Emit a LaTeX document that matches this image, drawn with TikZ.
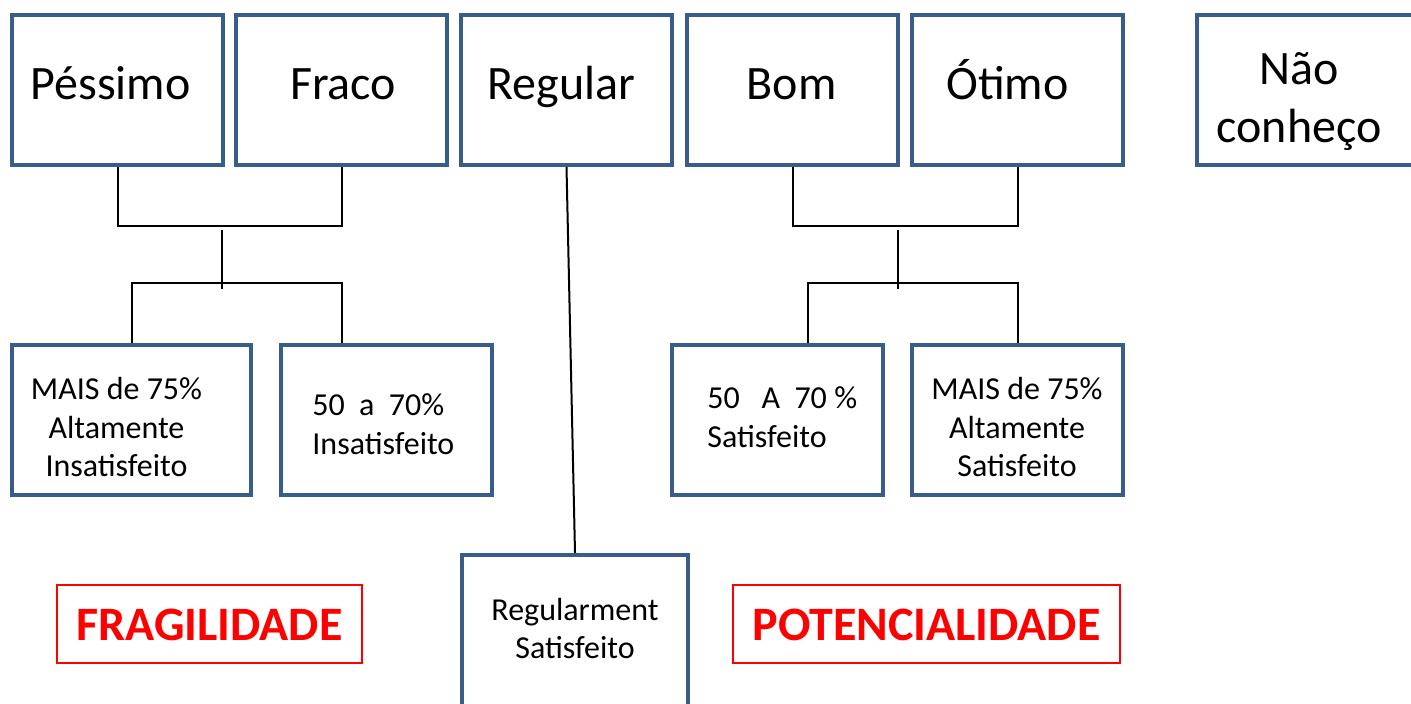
\documentclass[tikz,border=0pt]{standalone}
\usepackage{fontspec}
\setmainfont{Carlito}
\definecolor{bxblue}{RGB}{56,93,138}
\definecolor{tred}{RGB}{255,0,0}
\begin{document}
\begin{tikzpicture}[x=0.5pt,y=-0.5pt,
  bx/.style 2 args={draw=bxblue, line width=2pt, rectangle, inner sep=0pt,
    minimum width=#1*0.5pt, minimum height=#2*0.5pt},
  redbx/.style 2 args={draw=tred, line width=1pt, rectangle, inner sep=0pt,
    minimum width=#1*0.5pt, minimum height=#2*0.5pt},
  big/.style={font=\fontsize{24}{29}\selectfont, inner sep=0pt, anchor=base, align=center},
  small/.style={font=\fontsize{16}{19.5}\selectfont, inner sep=0pt, anchor=base},
  redtxt/.style={font=\fontsize{24}{29}\selectfont\bfseries, text=tred, inner sep=0pt, anchor=base},
  conn/.style={draw=black, line width=1pt}
]
\useasboundingbox (0,0) rectangle (1411,704);
\clip (0,0) rectangle (1411,704);
\fill[white] (0,0) rectangle (1411,704);

% top row boxes
\node[bx={211}{150}] (pess) at (117.5,90) {};
\node[bx={211}{150}] (fraco) at (341.5,90) {};
\node[bx={211}{150}] (regular) at (566.5,90) {};
\node[bx={211}{150}] (bom) at (792.5,90) {};
\node[bx={211}{150}] (otimo) at (1017.5,90) {};
\node[bx={230}{150}] (naoc) at (1312,90) {};

% second row boxes
\node[bx={239}{150}] (mi) at (131.5,420) {};
\node[bx={211}{150}] (ins) at (386.5,420) {};
\node[bx={211}{150}] (sat) at (777.5,420) {};
\node[bx={211}{150}] (as) at (1017.5,420) {};

% bottom boxes
\node[bx={226}{170}] (regs) at (575,640) {};
\node[redbx={305}{78}] (frag) at (209.5,624) {};
\node[redbx={387}{78}] (pot) at (926.5,624) {};

% texts
\node[big] (tpess) at (110.5,100) {Péssimo};
\node[big] (tfraco) at (343,100) {Fraco};
\node[big] (treg) at (561.5,100) {Regular};
\node[big] (tbom) at (791.5,100) {Bom};
\node[big] (totimo) at (1007.5,100) {Ótimo};
\node[big] (tnao) at (1299,85) {Não};
\node[big] (tconh) at (1299,143) {conheço};

\node[small] (tmi1) at (116.5,400) {MAIS de 75\%};
\node[small] (tmi2) at (116.5,439) {Altamente};
\node[small] (tmi3) at (116.5,477) {Insatisfeito};

\node[small, anchor=base west] (tins1) at (312,416) {50\hspace{0.45em}a\hspace{0.45em}70\%};
\node[small, anchor=base west] (tins2) at (312,455) {Insatisfeito};

\node[small, anchor=base west] (tsat1) at (707,409) {50\hspace{0.68em}A\hspace{0.45em}70\hspace{0.23em}\%};
\node[small, anchor=base west] (tsat2) at (707,448) {Satisfeito};

\node[small] (tas1) at (1017,400) {MAIS de 75\%};
\node[small] (tas2) at (1017,439) {Altamente};
\node[small] (tas3) at (1017,477) {Satisfeito};

\node[small] (tregs1) at (575,620) {Regularment};
\node[small] (tregs2) at (575,658) {Satisfeito};

\node[redtxt] (tfrag) at (209.5,640) {FRAGILIDADE};
\node[redtxt] (tpot) at (926.5,640) {POTENCIALIDADE};

% connectors left
\draw[conn] (pess.south) -- ++(0,59) -| (fraco.south);
\coordinate (lt) at (222,230);
\coordinate (lb) at (222,289);
\draw[conn] (lt) -- (lb);
\draw[conn] (mi.north) -- ++(0,-60) -| (ins.north -| fraco.south);

% connectors right
\draw[conn] (bom.south) -- ++(0,59) -| (otimo.south);
\coordinate (rt) at (898,230);
\coordinate (rb) at (898,289);
\draw[conn] (rt) -- (rb);
\draw[conn] (as.north) -- ++(0,-60) -| ([xshift=15pt]sat.north);

% regular
\draw[conn] (regular.south) -- (regs.north);
\end{tikzpicture}
\end{document}
